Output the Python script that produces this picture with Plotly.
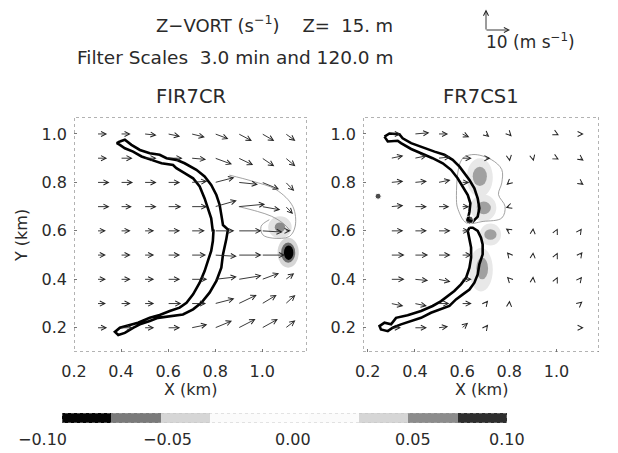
import plotly.graph_objects as go

W, H = 618, 453

# ---------------- data ----------------
# wind-vector tails (km); rows run top to bottom
X_GRID = [0.3, 0.4, 0.5, 0.6, 0.7, 0.8, 0.9, 1.0, 1.1]
Y_GRID = [1.0, 0.9, 0.8, 0.7, 0.6, 0.5, 0.4, 0.3, 0.2]

# FIR7CR horizontal wind (m/s)
U_LEFT = [
    [4.0, 4.0, 5.0, 5.0, 5.5, 5.5, 5.5, 5.0, 4.0],
    [4.0, 4.8, 5.0, 6.0, 6.0, 7.0, 6.0, 5.0, 4.0],
    [5.0, 5.0, 5.0, 5.0, 6.5, 8.0, 8.0, 7.0, 3.5],
    [5.0, 4.5, 5.0, 5.5, 6.5, 9.0, 11.0, 7.5, 3.0],
    [3.5, 4.0, 4.0, 5.0, 5.5, 8.0, 9.5, 8.5, 2.0],
    [3.5, 4.0, 4.0, 5.0, 6.0, 9.0, 9.5, 9.5, 1.0],
    [3.5, 4.0, 4.0, 5.0, 6.5, 9.0, 9.5, 7.0, 3.5],
    [3.5, 4.0, 4.0, 5.5, 6.0, 8.0, 7.5, 6.0, 4.0],
    [4.0, 5.0, 4.0, 5.0, 6.5, 7.0, 7.0, 6.5, 4.0],
]
V_LEFT = [
    [0.0, 0.0, -0.5, -1.0, -1.3, -2.0, -2.8, -2.8, -2.8],
    [0.0, 0.0, 0.0, 0.0, -0.5, -2.5, -2.8, -3.3, -3.3],
    [0.0, 0.0, 0.0, 0.0, 0.5, 2.0, -0.8, -2.8, -3.5],
    [0.0, 0.0, 0.0, 0.0, 0.0, 2.5, 1.0, -1.3, -3.0],
    [0.0, 0.0, 0.0, 0.0, 0.0, 0.0, 0.0, -0.5, 0.0],
    [0.0, 0.0, 0.0, 0.0, 0.0, -0.5, 0.0, 0.0, 0.0],
    [0.0, 0.0, 0.0, 0.0, 0.0, 1.0, 1.5, 2.5, 2.5],
    [0.0, 0.0, 0.0, 0.0, 0.0, 2.0, 3.5, 3.5, 3.5],
    [0.0, 0.0, 0.0, 0.0, 1.3, 2.8, 3.5, 3.5, 3.0],
]

# FR7CS1 horizontal wind (m/s)
U_RIGHT = [
    [4.0, 6.0, 4.0, 3.0, 1.5, 1.0, 0.5, 1.0, 1.5],
    [5.0, 5.0, 5.0, 4.0, 2.0, 0.2, 0.3, 1.0, 1.5],
    [5.0, 5.0, 5.0, 3.0, 1.0, -1.2, 0.3, 0.5, 1.5],
    [5.0, 5.0, 4.5, 3.0, 1.0, -1.5, 0.1, 0.3, 0.8],
    [5.0, 5.0, 5.0, 3.0, 0.5, -1.5, 0.1, 0.5, 0.7],
    [5.5, 5.5, 5.0, 4.0, 1.0, -1.0, 0.1, 0.5, 1.0],
    [5.5, 5.5, 5.0, 4.0, 1.0, -1.0, 0.1, 0.5, 0.8],
    [5.0, 5.0, 4.5, 4.0, 1.0, 0.1, 0.2, 0.3, 1.0],
    [4.0, 5.0, 4.0, 2.5, 1.0, 0.3, 0.3, 0.3, 1.5],
]
V_RIGHT = [
    [0.0, 0.5, 0.0, -1.3, -1.2, -1.0, 0.2, -0.5, 0.0],
    [1.0, 1.0, 0.5, 0.0, 0.0, -1.3, -1.2, -0.5, -1.0],
    [0.5, 0.5, 1.0, 0.0, 0.0, -1.0, 0.6, 0.5, -1.0],
    [0.5, 0.0, 0.0, 0.0, 0.0, -0.5, 0.6, 0.5, 0.0],
    [0.0, 0.0, 0.0, 0.0, 0.0, 1.0, 1.2, 1.0, 1.0],
    [0.0, 0.0, 0.0, 0.0, 0.0, 1.2, 1.2, 1.0, 1.3],
    [0.0, -0.5, -1.0, 0.0, 0.0, 1.0, 1.2, 1.0, 1.0],
    [-1.0, -1.0, 0.0, 0.0, 1.2, 1.2, 0.5, 0.6, 0.8],
    [0.0, 0.0, 0.5, 2.0, 1.3, 0.8, 0.2, 0.2, 0.0],
]

# gust-front outline (closed band), FIR7CR
FRONT_L_X = [0.395, 0.416, 0.444, 0.480, 0.522, 0.564, 0.593, 0.635, 0.670, 0.720, 0.755, 0.783,
             0.805, 0.819, 0.826, 0.833, 0.854, 0.847, 0.833, 0.826, 0.805, 0.776, 0.741, 0.706,
             0.663, 0.607, 0.557, 0.522, 0.480, 0.451, 0.416, 0.388, 0.374, 0.395, 0.430, 0.472,
             0.522, 0.564, 0.607, 0.649, 0.678, 0.706, 0.734, 0.755, 0.769, 0.783, 0.790, 0.793,
             0.790, 0.783, 0.769, 0.755, 0.734, 0.706, 0.670, 0.635, 0.621, 0.572, 0.529, 0.487,
             0.451, 0.416, 0.395, 0.382, 0.395]
FRONT_L_Y = [0.969, 0.976, 0.955, 0.934, 0.920, 0.914, 0.900, 0.893, 0.879, 0.852, 0.825, 0.790,
             0.748, 0.707, 0.666, 0.624, 0.606, 0.565, 0.503, 0.448, 0.393, 0.345, 0.303, 0.276,
             0.255, 0.248, 0.241, 0.228, 0.214, 0.200, 0.179, 0.170, 0.183, 0.200, 0.211, 0.221,
             0.241, 0.253, 0.269, 0.283, 0.303, 0.338, 0.386, 0.434, 0.476, 0.517, 0.558, 0.606,
             0.597, 0.652, 0.694, 0.734, 0.783, 0.817, 0.838, 0.859, 0.872, 0.879, 0.893, 0.907,
             0.927, 0.941, 0.955, 0.962, 0.969]

# gust-front outlines, FR7CS1 (northern and southern segments)
FRONT_RN_X = [0.271, 0.292, 0.334, 0.348, 0.384, 0.440, 0.483, 0.525, 0.560, 0.589, 0.610, 0.631,
              0.652, 0.666, 0.673, 0.666, 0.645, 0.624, 0.631, 0.635, 0.624, 0.603, 0.581, 0.553,
              0.518, 0.475, 0.426, 0.384, 0.341, 0.327, 0.285, 0.271]
FRONT_RN_Y = [0.989, 1.002, 0.999, 0.982, 0.962, 0.941, 0.927, 0.914, 0.893, 0.865, 0.838, 0.810,
              0.776, 0.734, 0.693, 0.659, 0.638, 0.645, 0.679, 0.714, 0.748, 0.783, 0.817, 0.852,
              0.879, 0.900, 0.920, 0.938, 0.962, 0.972, 0.969, 0.989]
FRONT_RS_X = [0.631, 0.645, 0.666, 0.680, 0.687, 0.687, 0.673, 0.666, 0.652, 0.631, 0.603, 0.574,
              0.546, 0.511, 0.468, 0.426, 0.384, 0.341, 0.306, 0.285, 0.256, 0.250, 0.271, 0.299,
              0.320, 0.369, 0.426, 0.475, 0.511, 0.539, 0.567, 0.595, 0.617, 0.631, 0.638, 0.638,
              0.631, 0.624, 0.631]
FRONT_RS_Y = [0.613, 0.613, 0.600, 0.572, 0.544, 0.503, 0.462, 0.420, 0.386, 0.358, 0.338, 0.317,
              0.290, 0.276, 0.262, 0.241, 0.228, 0.214, 0.200, 0.186, 0.193, 0.207, 0.221, 0.214,
              0.241, 0.252, 0.269, 0.290, 0.310, 0.331, 0.352, 0.379, 0.407, 0.448, 0.489, 0.531,
              0.572, 0.600, 0.613]

# vertical-vorticity patches: centre x, centre y, half-width, half-height, shade
VORT_L = [
    (1.075, 0.615, 0.050, 0.045, "#e2e2e2"),
    (1.075, 0.615, 0.022, 0.020, "#8a8a8a"),
    (1.110, 0.510, 0.045, 0.062, "#d6d6d6"),
    (1.110, 0.510, 0.030, 0.042, "#6e6e6e"),
    (1.112, 0.510, 0.020, 0.030, "#000000"),
]
VORT_R = [
    (0.675, 0.820, 0.055, 0.080, "#e8e8e8"),
    (0.690, 0.695, 0.055, 0.055, "#e8e8e8"),
    (0.720, 0.585, 0.045, 0.045, "#e8e8e8"),
    (0.680, 0.440, 0.050, 0.090, "#e8e8e8"),
    (0.675, 0.825, 0.030, 0.040, "#a0a0a0"),
    (0.692, 0.695, 0.030, 0.026, "#a0a0a0"),
    (0.720, 0.585, 0.026, 0.022, "#a0a0a0"),
    (0.685, 0.445, 0.025, 0.045, "#a0a0a0"),
]

# low-level vorticity isolines
ISO_L_X = [0.86, 0.958, 1.059, 1.13, 1.14, 1.115, 1.045, 1.002, 0.995, 1.03]
ISO_L_Y = [0.83, 0.805, 0.77, 0.70, 0.62, 0.577, 0.57, 0.584, 0.619, 0.646]
ISO_L2_X = [0.90, 0.98, 1.04, 1.09, 1.12]
ISO_L2_Y = [0.70, 0.68, 0.66, 0.63, 0.60]
ISO_R_X = [0.598, 0.646, 0.724, 0.768, 0.768, 0.754, 0.782, 0.768, 0.689, 0.618, 0.583, 0.576, 0.598]
ISO_R_Y = [0.894, 0.915, 0.894, 0.853, 0.798, 0.750, 0.701, 0.653, 0.639, 0.633, 0.688, 0.729, 0.894]

# isolated echo points
DOT_R_X = [0.244, 0.631]
DOT_R_Y = [0.743, 0.645]

# colour-bar levels and shades
CBAR_EDGES = [-0.1, -0.0778, -0.0556, -0.0333, -0.0111, 0.0111, 0.0333, 0.0556, 0.0778, 0.1]
CBAR_SHADES = ["#050505", "#7a7a7a", "#d6d6d6", "#fbfbfb", "#fdfdfd", "#fbfbfb",
               "#d6d6d6", "#8c8c8c", "#2e2e2e"]
CBAR_TICKS = ["\u22120.10", "\u22120.05", "0.00", "0.05", "0.10"]

REF_SPEED = 10.0      # reference vector (m/s)
KM_PER_MS = 0.0102    # vector length scale

FONT = "DejaVu Sans"
INK = "#2a2a2a"


def px(xp):
    return xp / W


def py(yp):
    return 1 - yp / H


fig = go.Figure()

# subplot geometry
dom_y = [py(352), py(117)]
dom_xl = [px(74), px(307)]
dom_xr = [px(363), px(599)]
x_rng_l = [0.2, 1.19]
x_rng_r = [0.18, 1.18]
y_rng = [0.1, 1.07]

axis_common = dict(showgrid=False, zeroline=False, showline=False, automargin=False,
                   ticks="inside", ticklen=3, tickcolor="#777", tickwidth=1,
                   tickfont=dict(family=FONT, size=16, color=INK),
                   tickvals=[0.2, 0.4, 0.6, 0.8, 1.0], ticktext=["0.2", "0.4", "0.6", "0.8", "1.0"],
                   fixedrange=True)

fig.update_layout(
    width=W, height=H, margin=dict(l=0, r=0, t=0, b=0, autoexpand=False),
    paper_bgcolor="white", plot_bgcolor="white", showlegend=False,
    xaxis=dict(domain=dom_xl, range=x_rng_l, anchor="y", ticklabelstandoff=8, **axis_common),
    yaxis=dict(domain=dom_y, range=y_rng, anchor="x", ticklabelstandoff=6, **axis_common),
    xaxis2=dict(domain=dom_xr, range=x_rng_r, anchor="y2", ticklabelstandoff=8, **axis_common),
    yaxis2=dict(domain=dom_y, range=y_rng, anchor="x2", ticklabelstandoff=6, **axis_common),
    xaxis3=dict(domain=[px(62), px(507)], range=[CBAR_EDGES[0], CBAR_EDGES[-1]], anchor="y3",
                visible=False, fixedrange=True, automargin=False),
    yaxis3=dict(domain=[py(423), py(413)], range=[0, 1], anchor="x3", visible=False,
                fixedrange=True, automargin=False),
)

shapes = []
annotations = []


def label(text, xp, yp, size=16, xanchor="center", **kw):
    annotations.append(dict(text=text, x=px(xp), y=py(yp), xref="paper", yref="paper",
                            xanchor=xanchor, yanchor="middle", showarrow=False,
                            font=dict(family=FONT, size=size, color=INK), **kw))


# vorticity patches
for (cx, cy, rx, ry, col), xr, yr in [(v, "x", "y") for v in VORT_L] + [(v, "x2", "y2") for v in VORT_R]:
    shapes.append(dict(type="circle", xref=xr, yref=yr, x0=cx - rx, x1=cx + rx,
                       y0=cy - ry, y1=cy + ry, fillcolor=col, line=dict(width=0), layer="below"))

# dotted frames
for xr, yr, rx, ry in [("x", "y", x_rng_l, y_rng), ("x2", "y2", x_rng_r, y_rng)]:
    shapes.append(dict(type="rect", xref=xr, yref=yr, x0=rx[0], x1=rx[1], y0=ry[0], y1=ry[1],
                       line=dict(color="#666", width=1, dash="dot"), layer="above"))

# isolines
for xs, ys, xa, ya in [(ISO_L_X, ISO_L_Y, "x", "y"), (ISO_L2_X, ISO_L2_Y, "x", "y"),
                       (ISO_R_X, ISO_R_Y, "x2", "y2")]:
    fig.add_trace(go.Scatter(x=xs, y=ys, xaxis=xa, yaxis=ya, mode="lines",
                             line=dict(color="#8a8a8a", width=0.8, shape="spline"),
                             hoverinfo="skip"))

# gust-front outlines
for xs, ys, xa, ya in [(FRONT_L_X, FRONT_L_Y, "x", "y"),
                       (FRONT_RN_X, FRONT_RN_Y, "x2", "y2"),
                       (FRONT_RS_X, FRONT_RS_Y, "x2", "y2")]:
    fig.add_trace(go.Scatter(x=xs, y=ys, xaxis=xa, yaxis=ya, mode="lines",
                             line=dict(color="black", width=2.6), hoverinfo="skip"))

fig.add_trace(go.Scatter(x=DOT_R_X, y=DOT_R_Y, xaxis="x2", yaxis="y2", mode="markers",
                         marker=dict(color="black", size=[6, 8]), hoverinfo="skip"))

ARROW = dict(text="", showarrow=True, arrowhead=5, arrowsize=1.1, arrowwidth=0.9,
             arrowcolor="#222", font=dict(size=1), borderpad=0, standoff=0, startstandoff=0)

# wind vectors
for U, V, xa, ya in [(U_LEFT, V_LEFT, "x", "y"), (U_RIGHT, V_RIGHT, "x2", "y2")]:
    for j, y0 in enumerate(Y_GRID):
        for i, x0 in enumerate(X_GRID):
            u, v = U[j][i], V[j][i]
            annotations.append(dict(
                x=x0 + u * KM_PER_MS, y=y0 + v * KM_PER_MS, ax=x0, ay=y0,
                xref=xa, yref=ya, axref=xa, ayref=ya, **ARROW))

# colour bar
fig.add_trace(go.Heatmap(
    x=CBAR_EDGES, y=[0, 1], z=[list(range(len(CBAR_SHADES)))], xaxis="x3", yaxis="y3",
    colorscale=[[k / (len(CBAR_SHADES) - 1), c] for k, c in enumerate(CBAR_SHADES)],
    zmin=0, zmax=len(CBAR_SHADES) - 1, showscale=False, hoverinfo="skip"))
shapes.append(dict(type="rect", xref="x3", yref="y3", x0=CBAR_EDGES[0], x1=CBAR_EDGES[-1], y0=0, y1=1,
                   line=dict(color="#bbb", width=0.8, dash="dot")))
for lab, xp in zip(CBAR_TICKS, [42, 167, 293, 413, 507]):
    label(lab, xp, 439)

# reference vector in the header
ref_len_px = REF_SPEED * KM_PER_MS * (233 / (x_rng_l[1] - x_rng_l[0]))
corner_x, corner_y = 486, 30
annotations.append(dict(x=px(corner_x + ref_len_px), y=py(corner_y), ax=-ref_len_px, ay=0,
                        xref="paper", yref="paper", **ARROW))
annotations.append(dict(x=px(corner_x), y=py(corner_y - ref_len_px * 0.85), ax=0, ay=ref_len_px * 0.85,
                        xref="paper", yref="paper", **ARROW))
label("10 (m s<sup>\u22121</sup>)", 484, 41, size=17, xanchor="left")

# titles
label("Z\u2212VORT (s<sup>\u22121</sup>)\u00a0\u00a0\u00a0 Z=\u00a0\u00a015. m", 154, 24, size=18, xanchor="left")
label("Filter Scales\u00a0\u00a03.0 min and 120.0 m", 75, 58, size=18.5, xanchor="left")
for name, xr in [("FIR7CR", "x domain"), ("FR7CS1", "x2 domain")]:
    annotations.append(dict(text=name, x=0.5, y=py(97), xref=xr, yref="paper", yanchor="middle",
                            showarrow=False, font=dict(family=FONT, size=19.5, color=INK)))
    annotations.append(dict(text="X (km)", x=0.5, y=py(389), xref=xr, yref="paper", yanchor="middle",
                            showarrow=False, font=dict(family=FONT, size=16, color=INK)))
label("Y (km)", 21, 236, textangle=-90)

fig.update_layout(shapes=shapes, annotations=annotations)
fig.write_html("out.html")
